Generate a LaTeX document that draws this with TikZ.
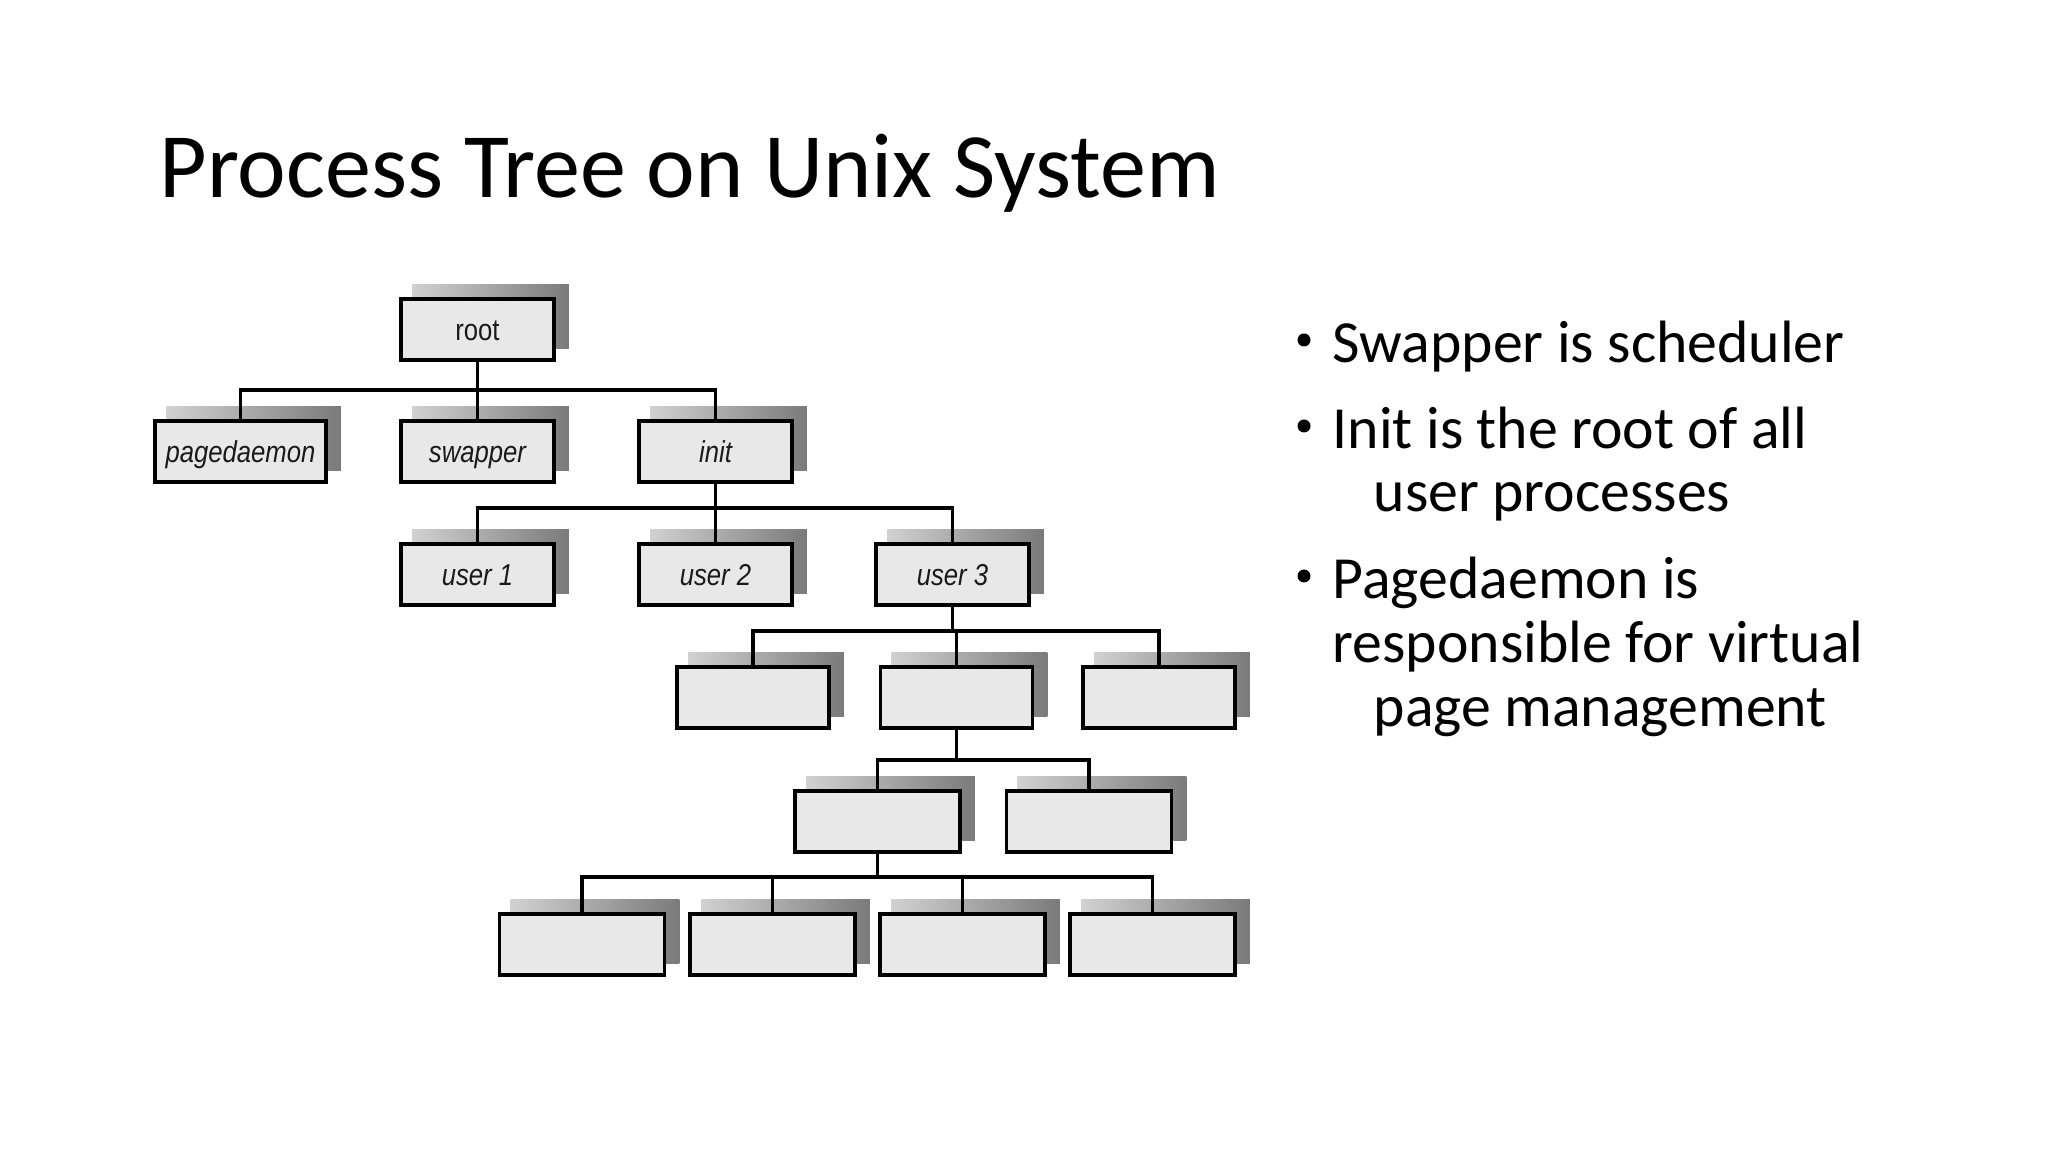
\documentclass[tikz,border=0pt]{standalone}
\usepackage{fontspec}
\usepackage{graphicx}
\setmainfont{Carlito}
\newfontfamily\lblfont{Liberation Sans}
\usetikzlibrary{backgrounds,calc}
\definecolor{boxfill}{HTML}{E8E8E8}
\definecolor{lbltext}{HTML}{1A1A1A}
\newcommand{\blbl}[1]{\scalebox{0.85}[1]{#1}}
\tikzset{
  pbox/.style={draw=black, line width=1.1pt, fill=boxfill, minimum height=6.1mm, inner sep=0pt,
    text height=2.3mm, text depth=0mm,
    font=\lblfont\fontsize{8.6pt}{9pt}\selectfont\itshape, text=lbltext},
  wA/.style={minimum width=15.3mm},
  wB/.style={minimum width=16.5mm},
  conn/.style={draw=black, line width=1.1pt},
  bullettext/.style={anchor=base west, inner sep=0pt, font=\fontsize{17pt}{20pt}\selectfont},
  bulletdot/.style={circle, fill=black, inner sep=0pt, minimum size=1.3mm}
}
\begin{document}
\begin{tikzpicture}[x=0.1mm, y=-0.1mm]
\useasboundingbox (0,0) rectangle (2048,1152);
% title
\node[anchor=base west, inner sep=0pt, font=\fontsize{26.2pt}{30pt}\selectfont] (title) at (159,198) {Process Tree on Unix System};
% boxes
\node[pbox, wA, font=\lblfont\fontsize{8.6pt}{9pt}\selectfont] (root) at (477.5,329.5) {\blbl{root}};
\node[pbox, minimum width=17.1mm] (pagedaemon) at (240.5,451.5) {\blbl{pagedaemon}};
\node[pbox, wA] (swapper) at (477.5,451.5) {\blbl{swapper}};
\node[pbox, wA] (init) at (715.5,451.5) {\blbl{init}};
\node[pbox, wA] (user1) at (477.5,574.5) {\blbl{user 1}};
\node[pbox, wA] (user2) at (715.5,574.5) {\blbl{user 2}};
\node[pbox, wA] (user3) at (952.5,574.5) {\blbl{user 3}};
\node[pbox, minimum width=15.2mm] (r4a) at (753,697.5) {};
\node[pbox, minimum width=15.2mm] (r4b) at (956.5,697.5) {};
\node[pbox, minimum width=15.2mm] (r4c) at (1159,697.5) {};
\node[pbox, wB] (r5a) at (877.5,821.5) {};
\node[pbox, wB] (r5b) at (1089,821.5) {};
\node[pbox, wB] (r6a) at (582,944.5) {};
\node[pbox, wB] (r6b) at (772.5,944.5) {};
\node[pbox, wB] (r6c) at (962.5,944.5) {};
\node[pbox, wB] (r6d) at (1152.5,944.5) {};
% bus levels
\coordinate (bus1) at (0,390);
\coordinate (bus2) at (0,508);
\coordinate (bus3) at (0,631);
\coordinate (bus4) at (0,760);
\coordinate (bus5) at (0,877);
% connectors
\draw[conn] (pagedaemon.north) |- (init.north |- bus1) -- (init.north);
\draw[conn] (root.south) -- (swapper.north);
\draw[conn] (user1.north) |- (user3.north |- bus2) -- (user3.north);
\draw[conn] (init.south) -- (user2.north);
\draw[conn] (r4a.north) |- (r4c.north |- bus3) -- (r4c.north);
\draw[conn] (user3.south) -- (user3.south |- bus3);
\draw[conn] (r4b.north) -- (r4b.north |- bus3);
\draw[conn] (r5a.north) |- (r5b.north |- bus4) -- (r5b.north);
\draw[conn] (r4b.south) -- (r4b.south |- bus4);
\draw[conn] (r6a.north) |- (r6d.north |- bus5) -- (r6d.north);
\draw[conn] (r6b.north) -- (r6b.north |- bus5);
\draw[conn] (r6c.north) -- (r6c.north |- bus5);
\draw[conn] (r5a.south) -- (r5a.south |- bus5);
% bullets
\node[bulletdot] (b1) at (1304,340) {};
\node[bulletdot] (b2) at (1304,426) {};
\node[bulletdot] (b3) at (1304,576) {};
\node[bullettext] (t1) at (1332,363) {Swapper is scheduler};
\node[bullettext] (t2) at (1332,449) {Init is the root of all};
\node[bullettext] (t2b) at (1373,512) {user processes};
\node[bullettext] (t3) at (1332,599) {Pagedaemon is};
\node[bullettext] (t3b) at (1332,663) {responsible for virtual};
\node[bullettext] (t3c) at (1373,727) {page management};
% background and shadows
\begin{pgfonlayer}{background}
\fill[white] (0,0) rectangle (2048,1152);
\foreach \n in {root,pagedaemon,swapper,init,user1,user2,user3,r4a,r4b,r4c,r5a,r5b,r6a,r6b,r6c,r6d}{
  \shade[left color=black!18, right color=black!52]
    ($(\n.south west)+(1.3mm,1.3mm)$) rectangle ($(\n.north east)+(1.3mm,1.3mm)$);
}
\end{pgfonlayer}
\end{tikzpicture}
\end{document}
